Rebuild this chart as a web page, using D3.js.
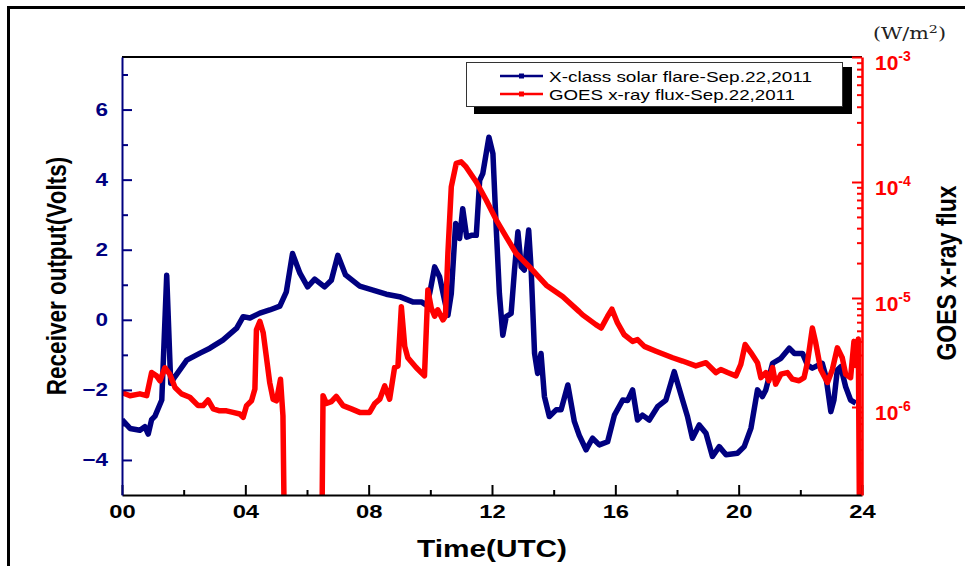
<!DOCTYPE html>
<html>
<head>
<meta charset="utf-8">
<script src="https://cdn.jsdelivr.net/npm/d3@7"></script>
<style>
  body { margin: 0; background: #fff; }
  svg { display: block; font-family: Arial, "Liberation Sans", sans-serif; }
</style>
</head>
<body>
<div id="chart"></div>
<script>
// receiver output (Volts) vs hour of day
const blueHours = [0.00, 0.26, 0.58, 0.74, 0.85, 0.96, 1.07, 1.29, 1.45, 1.58, 1.72, 2.10, 2.53, 2.85, 3.27, 3.72, 3.93, 4.15, 4.47, 4.79,
  5.12, 5.33, 5.53, 5.77, 6.02, 6.25, 6.57, 6.79, 7.00, 7.25, 7.71, 8.14, 8.57, 9.00, 9.43, 9.71, 9.87, 9.98, 10.14, 10.30,
  10.46, 10.57, 10.68, 10.82, 10.95, 11.05, 11.18, 11.33, 11.49, 11.60, 11.70, 11.90, 12.03, 12.14, 12.24, 12.35, 12.46, 12.62, 12.73, 12.84,
  12.95, 13.05, 13.19, 13.27, 13.38, 13.48, 13.59, 13.70, 13.86, 14.08, 14.24, 14.46, 14.67, 14.83, 15.05, 15.26, 15.48, 15.75, 15.97, 16.24,
  16.40, 16.56, 16.72, 16.88, 17.10, 17.37, 17.64, 17.91, 18.18, 18.34, 18.50, 18.72, 18.94, 19.15, 19.37, 19.59, 19.96, 20.18, 20.40, 20.61,
  20.77, 20.88, 21.10, 21.37, 21.64, 21.81, 22.07, 22.23, 22.39, 22.71, 22.83, 22.99, 23.09, 23.20, 23.31, 23.47, 23.63, 23.80];
const blueVolts = [-2.85, -3.10, -3.15, -3.05, -3.26, -2.85, -2.75, -2.29, 1.27, -1.81, -1.62, -1.15, -0.95, -0.81, -0.58, -0.24, 0.09, 0.05, 0.19, 0.28,
  0.39, 0.80, 1.89, 1.33, 0.94, 1.16, 0.94, 1.13, 1.84, 1.28, 0.96, 0.85, 0.73, 0.66, 0.51, 0.51, 0.42, 0.76, 1.51, 1.23,
  0.56, 0.13, 0.75, 2.75, 2.32, 3.17, 2.36, 2.41, 2.41, 3.98, 4.17, 5.21, 4.74, 2.56, 0.75, -0.44, 0.09, 0.18, 1.42, 2.51,
  1.51, 1.42, 2.56, 1.42, -0.96, -1.53, -0.96, -2.19, -2.76, -2.57, -2.57, -1.86, -2.90, -3.30, -3.71, -3.38, -3.57, -3.48, -2.72, -2.29,
  -2.30, -2.00, -2.86, -2.72, -2.86, -2.48, -2.29, -1.48, -2.29, -2.76, -3.38, -3.00, -3.24, -3.90, -3.62, -3.85, -3.81, -3.62, -3.09, -2.00,
  -2.19, -2.00, -1.24, -1.10, -0.81, -0.96, -0.96, -1.29, -1.38, -1.24, -1.62, -2.62, -2.29, -1.43, -1.34, -1.91, -2.29, -2.38];

// GOES x-ray flux (W/m2); 1e-8 marks the data drop-outs that fall off the axis
const redHours = [0.00, 0.26, 0.58, 0.80, 0.96, 1.12, 1.23, 1.39, 1.55, 1.72, 1.93, 2.20, 2.47, 2.63, 2.79, 2.96, 3.17, 3.39, 3.60, 3.82,
  3.93, 4.04, 4.20, 4.31, 4.36, 4.47, 4.58, 4.79, 4.90, 5.01, 5.14, 5.22, 5.30, 6.46, 6.52, 6.63, 6.79, 6.95, 7.17, 7.44,
  7.71, 8.03, 8.19, 8.36, 8.52, 8.68, 8.84, 8.95, 9.06, 9.17, 9.27, 9.54, 9.81, 9.92, 10.03, 10.14, 10.24, 10.41, 10.49, 10.57,
  10.68, 10.84, 11.00, 11.16, 11.49, 11.81, 12.14, 12.46, 12.78, 13.21, 13.76, 14.29, 14.83, 14.94, 15.37, 15.54, 15.75, 15.89, 16.07, 16.29,
  16.56, 16.72, 16.94, 17.32, 17.86, 18.18, 18.61, 18.94, 19.26, 19.42, 19.64, 19.91, 20.07, 20.21, 20.40, 20.61, 20.72, 20.88, 20.98, 21.10,
  21.20, 21.37, 21.58, 21.74, 21.96, 22.12, 22.23, 22.39, 22.50, 22.66, 22.88, 23.04, 23.20, 23.36, 23.47, 23.63, 23.74, 23.80, 23.88, 23.94];
const redFlux = [1.36e-6, 1.27e-6, 1.32e-6, 1.27e-6, 2.07e-6, 1.93e-6, 1.74e-6, 2.29e-6, 2.0e-6, 1.51e-6, 1.32e-6, 1.23e-6, 1.03e-6, 1.03e-6, 1.16e-6, 9.6e-7, 9.2e-7, 9.2e-7, 8.9e-7, 8.6e-7,
  8.0e-7, 1.03e-6, 1.14e-6, 1.46e-6, 5.1e-6, 6.1e-6, 4.8e-6, 1.68e-6, 1.18e-6, 1.14e-6, 1.8e-6, 8.3e-7, 1e-8, 1e-8, 1.27e-6, 1.08e-6, 1.12e-6, 1.25e-6, 1.03e-6, 9.6e-7,
  8.9e-7, 8.9e-7, 1.07e-6, 1.18e-6, 1.56e-6, 1.18e-6, 2.3e-6, 2.38e-6, 8.3e-6, 3.6e-6, 2.83e-6, 2.3e-6, 1.93e-6, 1.17e-5, 8.1e-6, 6.8e-6, 7.8e-6, 6.3e-6, 6.8e-6, 2.43e-5,
  9.1e-5, 1.41e-4, 1.45e-4, 1.32e-4, 1.0e-4, 7.0e-5, 4.7e-5, 3.37e-5, 2.43e-5, 1.86e-5, 1.29e-5, 1.03e-5, 7.5e-6, 7.0e-6, 5.7e-6, 5.3e-6, 6.8e-6, 7.9e-6, 5.9e-6, 4.6e-6,
  4.0e-6, 4.15e-6, 3.6e-6, 3.25e-6, 2.83e-6, 2.64e-6, 2.38e-6, 2.55e-6, 2.07e-6, 2.21e-6, 2.07e-6, 1.93e-6, 2.46e-6, 3.74e-6, 3.14e-6, 2.55e-6, 1.86e-6, 2.07e-6, 1.74e-6, 2.3e-6,
  1.62e-6, 2.0e-6, 2.07e-6, 1.8e-6, 1.74e-6, 1.86e-6, 2.55e-6, 5.3e-6, 3.87e-6, 2.21e-6, 1.68e-6, 2.21e-6, 3.49e-6, 2.83e-6, 2.0e-6, 1.86e-6, 4.0e-6, 2.4e-6, 4.2e-6, 1e-8];

const hourTicks = [0, 4, 8, 12, 16, 20, 24];
const hourMinor = [2, 6, 10, 14, 18, 22];
const voltTicks = [-4, -2, 0, 2, 4, 6];
const voltMinor = [-3, -1, 1, 3, 5, 7];
const fluxTicks = [1e-6, 1e-5, 1e-4, 1e-3];
const fluxExponents = ["-6", "-5", "-4", "-3"];
const legendLabels = ["X-class solar flare-Sep.22,2011", "GOES x-ray flux-Sep.22,2011"];

const blueData = blueHours.map((t, i) => ({ t: t, v: blueVolts[i] }));
const redData = redHours.map((t, i) => ({ t: t, v: redFlux[i] }));

const navy = "#000080", red = "#ff0000";
const plotLeft = 122, plotRight = 862, plotTop = 57, plotBottom = 495;

const svg = d3.select("#chart").append("svg")
    .attr("width", 965)
    .attr("height", 566);

// outer frame
svg.append("rect")
    .attr("x", 8.5).attr("y", 7.5)
    .attr("width", 1000).attr("height", 1000)
    .attr("fill", "none").attr("stroke", "#000").attr("stroke-width", 3);

const x = d3.scaleLinear().domain([0, 24]).range([plotLeft, plotRight]);
const yL = d3.scaleLinear().domain([-5, 7.5]).range([plotBottom, plotTop]);
// the printed log axis has uneven decades, so map each decade separately
const yR = d3.scaleLog()
    .domain([1.5e-7, 1e-6, 1e-5, 1e-4, 1e-3])
    .range([plotBottom, 407, 298, 182, plotTop]);

// widen horizontal text a bit, the source figure is stretched sideways
function widen(sel, k) {
    sel.each(function () {
        const w = this.getComputedTextLength();
        d3.select(this).attr("textLength", w * k).attr("lengthAdjust", "spacingAndGlyphs");
    });
}

svg.append("clipPath").attr("id", "plot-clip")
    .append("rect")
    .attr("x", plotLeft).attr("y", plotTop)
    .attr("width", plotRight - plotLeft).attr("height", plotBottom - plotTop);

const lines = svg.append("g").attr("clip-path", "url(#plot-clip)");

const blueLine = d3.line().x(d => x(d.t)).y(d => yL(d.v));
const redLine = d3.line().x(d => x(d.t)).y(d => yR(d.v));

lines.append("path")
    .datum(blueData)
    .attr("fill", "none")
    .attr("stroke", navy)
    .attr("stroke-width", 5.5)
    .attr("stroke-linejoin", "round")
    .attr("d", blueLine);

lines.append("path")
    .datum(redData)
    .attr("fill", "none")
    .attr("stroke", red)
    .attr("stroke-width", 5.5)
    .attr("stroke-linejoin", "round")
    .attr("d", redLine);

// top frame line of the plot
svg.append("line")
    .attr("x1", plotLeft).attr("x2", plotRight)
    .attr("y1", plotTop).attr("y2", plotTop)
    .attr("stroke", "#000").attr("stroke-width", 2);

// bottom axis
const xAxis = svg.append("g")
    .attr("transform", `translate(0, ${plotBottom})`)
    .call(d3.axisBottom(x).tickValues(hourTicks).tickSize(-10).tickSizeOuter(0)
        .tickPadding(10).tickFormat(d3.format("02d")));
xAxis.select(".domain").attr("stroke", "#000").attr("stroke-width", 2);
xAxis.selectAll(".tick line").attr("stroke", "#000").attr("stroke-width", 2);
xAxis.selectAll("text")
    .attr("font-size", 19).attr("font-weight", "bold").attr("fill", "#000")
    .call(widen, 1.25);

const xMinor = svg.append("g")
    .attr("transform", `translate(0, ${plotBottom})`)
    .call(d3.axisBottom(x).tickValues(hourMinor).tickSize(-5).tickFormat(""));
xMinor.select(".domain").remove();
xMinor.selectAll(".tick line").attr("stroke", "#000").attr("stroke-width", 2);

// left axis
const yAxis = svg.append("g")
    .attr("transform", `translate(${plotLeft}, 0)`)
    .call(d3.axisLeft(yL).tickValues(voltTicks).tickSize(-10).tickSizeOuter(0).tickPadding(14));
yAxis.select(".domain").attr("stroke", navy).attr("stroke-width", 2);
yAxis.selectAll(".tick line").attr("stroke", navy).attr("stroke-width", 2);
yAxis.selectAll("text")
    .attr("font-size", 18).attr("font-weight", "bold").attr("fill", navy)
    .call(widen, 1.25);

const yMinor = svg.append("g")
    .attr("transform", `translate(${plotLeft}, 0)`)
    .call(d3.axisLeft(yL).tickValues(voltMinor).tickSize(-6).tickFormat(""));
yMinor.select(".domain").remove();
yMinor.selectAll(".tick line").attr("stroke", navy).attr("stroke-width", 2);

// right log axis
const fluxMinor = [];
[-7, -6, -5, -4].forEach(e => {
    for (let m = 2; m <= 9; m++) {
        const v = m * Math.pow(10, e);
        if (v >= 1.5e-7 && v < 1e-3) fluxMinor.push(v);
    }
});

const rAxis = svg.append("g")
    .attr("transform", `translate(${plotRight}, 0)`)
    .call(d3.axisRight(yR).tickValues(fluxTicks).tickSize(-10).tickSizeOuter(0).tickFormat(""));
rAxis.select(".domain").attr("stroke", red).attr("stroke-width", 2.5);
rAxis.selectAll(".tick line").attr("stroke", red).attr("stroke-width", 2);

const rMinor = svg.append("g")
    .attr("transform", `translate(${plotRight}, 0)`)
    .call(d3.axisRight(yR).tickValues(fluxMinor).tickSize(-5).tickFormat(""));
rMinor.select(".domain").remove();
rMinor.selectAll(".tick line").attr("stroke", red).attr("stroke-width", 2);

const rLabels = svg.append("g")
    .selectAll("text")
    .data(fluxTicks)
    .join("text")
    .attr("x", plotRight + 13)
    .attr("y", d => yR(d) + 13)
    .attr("fill", red)
    .attr("font-weight", "bold");
rLabels.append("tspan").attr("font-size", 21).text("10");
rLabels.append("tspan")
    .attr("font-size", 14)
    .attr("dy", -9)
    .text((d, i) => fluxExponents[i]);

// unit label
svg.append("text")
    .attr("x", 873).attr("y", 39)
    .attr("font-family", "'DejaVu Serif', 'Liberation Serif', serif")
    .attr("font-size", 16)
    .attr("fill", "#222")
    .attr("textLength", 73).attr("lengthAdjust", "spacingAndGlyphs")
    .html("(W/m<tspan font-size='11' dy='-6'>2</tspan><tspan dy='6'>)</tspan>");

// axis titles
svg.append("text")
    .attr("transform", "translate(66, 276) scale(1.2, 1) rotate(-90)")
    .attr("text-anchor", "middle")
    .attr("font-size", 22.5)
    .attr("font-weight", "bold")
    .text("Receiver output(Volts)");

svg.append("text")
    .attr("transform", "translate(956, 273) scale(1.2, 1) rotate(-90)")
    .attr("text-anchor", "middle")
    .attr("font-size", 23)
    .attr("font-weight", "bold")
    .text("GOES x-ray flux");

svg.append("text")
    .attr("x", 492).attr("y", 557)
    .attr("text-anchor", "middle")
    .attr("font-size", 24)
    .attr("font-weight", "bold")
    .attr("textLength", 150).attr("lengthAdjust", "spacingAndGlyphs")
    .text("Time(UTC)");

// legend with drop shadow
const legend = svg.append("g");
legend.append("rect")
    .attr("x", 474).attr("y", 67)
    .attr("width", 378).attr("height", 47)
    .attr("fill", "#000");
legend.append("rect")
    .attr("x", 466.5).attr("y", 62.5)
    .attr("width", 376).attr("height", 44)
    .attr("fill", "#fff").attr("stroke", "#333").attr("stroke-width", 1);

const legendColors = [navy, red];
const legendLengths = [263, 246];
legendLabels.forEach((label, i) => {
    const ly = 76 + i * 18;
    legend.append("line")
        .attr("x1", 500).attr("x2", 543)
        .attr("y1", ly).attr("y2", ly)
        .attr("stroke", legendColors[i]).attr("stroke-width", 2.5);
    legend.append("rect")
        .attr("x", 519).attr("y", ly - 2.5)
        .attr("width", 5).attr("height", 5)
        .attr("fill", legendColors[i]);
    legend.append("text")
        .attr("x", 549).attr("y", ly + 6)
        .attr("font-size", 15)
        .attr("fill", "#000")
        .attr("textLength", legendLengths[i]).attr("lengthAdjust", "spacingAndGlyphs")
        .text(label);
});
</script>
</body>
</html>
